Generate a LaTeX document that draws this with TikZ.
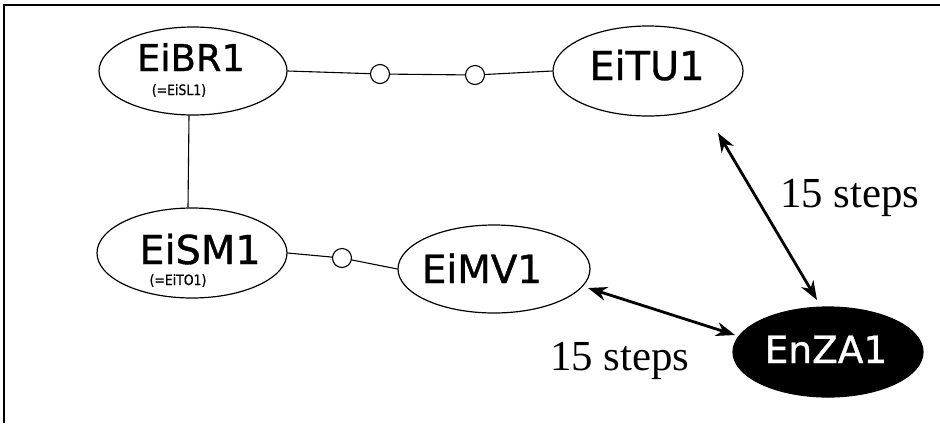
\documentclass[tikz,border=0pt]{standalone}
\usepackage{fontspec}
\setmainfont{Liberation Serif}
\newfontfamily\roundsans[FakeBold=0.9]{DejaVu Sans}
\usetikzlibrary{shapes.geometric,arrows.meta,calc}

\newcommand{\fsz}[1]{\fontsize{#1}{#1}\selectfont}
\newcommand{\tallsub}[1]{\scalebox{1}[1.15]{#1}}

\tikzset{
  strain/.style={ellipse, draw, line width=1.2bp, inner sep=0pt,
                 minimum width=190bp, minimum height=90bp},
  darkstrain/.style={strain, fill=black},
  strainname/.style={anchor=base, inner sep=0pt},
  junction/.style={circle, draw, fill=white, line width=1.1bp,
                   minimum size=19bp, inner sep=0pt},
  strainlink/.style={line width=1.1bp},
  steparrow/.style={line width=2.8bp,
                   {Stealth[length=19bp,width=14bp,inset=6bp]}-{Stealth[length=19bp,width=14bp,inset=6bp]}},
  stepslabel/.style={anchor=base, inner sep=0pt, font=\fsz{43}}
}

\begin{document}
\begin{tikzpicture}[x=1bp, y=-1bp]
  % page and frame
  \fill[white] (0,0) rectangle (940,423);
  \useasboundingbox (0,0) rectangle (940,423);
  \draw[line width=1.5bp] (4,423) -- (4,5) -- (940,5);

  % strains
  \node[strain, minimum width=188bp, minimum height=88bp] (EiBR1) at (193,71) {};
  \node[strain] (EiTU1) at (648,71) {};
  \node[strain] (EiSM1) at (192,253) {};
  \node[strain, minimum width=192bp, minimum height=88bp] (EiMV1) at (494,269) {};
  \node[darkstrain] (EnZA1) at (828,352) {};

  % strain names
  \node[strainname, font=\roundsans\fsz{37}] (tBR) at (191,71) {EiBR1};
  \node[strainname, font=\roundsans\fsz{12.5}] (tSL) at (179,95) {\tallsub{(=EiSL1)}};
  \node[strainname, font=\roundsans\fsz{40}] (tSM) at (200,264) {EiSM1};
  \node[strainname, font=\roundsans\fsz{12.5}] (tTO) at (178,285) {\tallsub{(=EiTO1)}};
  \node[strainname, font=\roundsans\fsz{40}] (tTU) at (647,80) {EiTU1};
  \node[strainname, font=\roundsans\fsz{39}] (tMV) at (482,283) {EiMV1};
  \node[strainname, font=\roundsans\fsz{37.6}, text=white] (tZA) at (826,363) {EnZA1};

  % junction points
  \node[junction] (j1) at (380,74) {};
  \node[junction] (j2) at (475,75) {};
  \node[junction] (j3) at (342,258) {};

  % links between strains
  \draw[strainlink] (EiBR1.east) -- (j1) -- (j2) -- (EiTU1.west);
  \draw[strainlink] ([xshift=-4bp]EiBR1.south) -- ([xshift=-4bp]EiSM1.north);
  \draw[strainlink] (EiSM1.east) -- (j3) -- (EiMV1.west);

  % distances to EnZA1
  \draw[steparrow] ($(EiTU1.center)+(70,62)$) -- ($(EnZA1.center)+(-11,-52)$);
  \draw[steparrow] ($(EiMV1.center)+(94,19)$) -- ($(EnZA1.center)+(-93,-17)$);

  \node[stepslabel] (s1) at (850,207) {15 steps};
  \node[stepslabel] (s2) at (620,370) {15 steps};
\end{tikzpicture}
\end{document}
